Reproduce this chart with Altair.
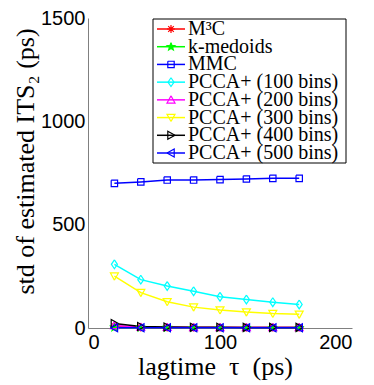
import altair as alt
import pandas as pd
import math

# ---- data ----
lagtimes = [20, 40, 60, 80, 100, 120, 140, 160]
series_names = ["M³C", "k-medoids", "MMC", "PCCA+ (100 bins)", "PCCA+ (200 bins)",
                "PCCA+ (300 bins)", "PCCA+ (400 bins)", "PCCA+ (500 bins)"]
m3c = [9, 3, 2, 2, 2, 2, 2, 2]
kmedoids = [3, 2, 2, 1, 1, 1, 1, 1]
mmc = [700, 707, 716, 716, 718, 721, 724, 724]
pcca100 = [308, 234, 203, 178, 151, 138, 125, 114]
pcca200 = [12, 5, 4, 3, 3, 3, 3, 3]
pcca300 = [251, 171, 127, 101, 87, 77, 70, 66]
pcca400 = [22, 7, 5, 4, 4, 3, 3, 3]
pcca500 = [1, 1, 1, 1, 1, 1, 1, 1]
all_values = [m3c, kmedoids, mmc, pcca100, pcca200, pcca300, pcca400, pcca500]

colors = ["#ff0000", "#00ff00", "#0000ff", "#00ffff", "#ff00ff", "#ffff00", "#000000", "#0000ff"]
fills = ["transparent", "#00ff00", "transparent", "transparent", "transparent",
         "transparent", "transparent", "transparent"]

rows = []
for name, vals in zip(series_names, all_values):
    for t, v in zip(lagtimes, vals):
        rows.append({"series": name, "lagtime": t, "std": v})
df = pd.DataFrame(rows)
legend_df = pd.DataFrame({"series": series_names, "idx": list(range(len(series_names)))})

# ---- marker shapes (unit coordinates) ----
star_pts = []
for i in range(10):
    r = 1.0 if i % 2 == 0 else 0.42
    a = -math.pi / 2 + i * math.pi / 5
    star_pts.append((r * math.cos(a), r * math.sin(a)))

markers = [
    [[(-1, 0), (1, 0)], [(0, -1), (0, 1)], [(-0.7, -0.7), (0.7, 0.7)], [(-0.7, 0.7), (0.7, -0.7)]],
    [star_pts + [star_pts[0]]],
    [[(-0.8, -0.8), (0.8, -0.8), (0.8, 0.8), (-0.8, 0.8), (-0.8, -0.8)]],
    [[(0, -1.1), (0.75, 0), (0, 1.1), (-0.75, 0), (0, -1.1)]],
    [[(0, -1), (1, 0.8), (-1, 0.8), (0, -1)]],
    [[(0, 1), (1, -0.8), (-1, -0.8), (0, 1)]],
    [[(1, 0), (-0.8, -1), (-0.8, 1), (1, 0)]],
    [[(-1, 0), (0.8, -1), (0.8, 1), (-1, 0)]],
]


def to_path(polys):
    return "".join("M" + "L".join(f"{x:.3f},{y:.3f}" for x, y in poly) for poly in polys)


shapes = [to_path(m) for m in markers]

stroke_scale = alt.Scale(domain=series_names, range=colors)
fill_scale = alt.Scale(domain=series_names, range=fills)
shape_scale = alt.Scale(domain=series_names, range=shapes)

# ---- main plot ----
base = alt.Chart(df)
xscale = alt.Scale(domain=[0, 200], nice=False)
yscale = alt.Scale(domain=[0, 1500], nice=False)

lines = base.mark_line(strokeWidth=1.5).encode(
    x=alt.X("lagtime:Q", scale=xscale,
            axis=alt.Axis(values=[0, 100, 200], format="d", title="lagtime\u2002τ\u2002(ps)", titleX=127)),
    y=alt.Y("std:Q", scale=yscale,
            axis=alt.Axis(values=[0, 500, 1000, 1500], format="d",
                          title="std of estimated ITS₂ (ps)", titleY=143)),
    stroke=alt.Stroke("series:N", scale=stroke_scale, legend=None),
    detail="series:N",
)

points = base.mark_point(filled=False, size=64, strokeWidth=1.2, opacity=1).encode(
    x=alt.X("lagtime:Q", scale=xscale),
    y=alt.Y("std:Q", scale=yscale),
    stroke=alt.Stroke("series:N", scale=stroke_scale, legend=None),
    fill=alt.Fill("series:N", scale=fill_scale, legend=None),
    shape=alt.Shape("series:N", scale=shape_scale, legend=None),
)

main = alt.layer(lines, points)

# ---- legend (drawn as marks, rows placed by an index scale) ----
row_y = alt.Y("idx:Q", scale=alt.Scale(domain=[0, 7], range=[11, 135]), axis=None)

box = alt.Chart(pd.DataFrame({"box": [0]})).mark_rect(
    fill="white", stroke="black", strokeWidth=1
).encode(x=alt.value(65), x2=alt.value(258), y=alt.value(1), y2=alt.value(145))

lbase = alt.Chart(legend_df)
seg = lbase.mark_rule(strokeWidth=1.5).encode(
    x=alt.value(69), x2=alt.value(97), y=row_y,
    stroke=alt.Stroke("series:N", scale=stroke_scale, legend=None),
)
lpts = lbase.mark_point(filled=False, size=64, strokeWidth=1.2, opacity=1).encode(
    x=alt.value(83), y=row_y,
    stroke=alt.Stroke("series:N", scale=stroke_scale, legend=None),
    fill=alt.Fill("series:N", scale=fill_scale, legend=None),
    shape=alt.Shape("series:N", scale=shape_scale, legend=None),
)
ltxt = lbase.mark_text(align="left", baseline="middle", font="Liberation Serif",
                       fontSize=20, color="black").encode(
    x=alt.value(100), y=row_y, text="series:N",
)

legend = alt.layer(box, seg, lpts, ltxt)

chart = alt.layer(main, legend).resolve_scale(y="independent").properties(
    width=264, height=310,
    autosize=alt.AutoSizeParams(type="none"),
    padding={"left": 80, "top": 10, "right": 14, "bottom": 57},
).configure_view(stroke=None).configure_axis(
    grid=False, ticks=False, domainColor="#808080", domainWidth=1,
    labelFont="Liberation Sans", labelFontSize=20, labelColor="black",
    titleFont="Liberation Serif", titleFontSize=26, titleFontWeight="normal", titleColor="black",
).configure_axisY(labelPadding=3, titlePadding=2).configure_axisX(labelPadding=4, titlePadding=1)

chart.save("out.html", embed_options={"renderer": "svg", "actions": False})
